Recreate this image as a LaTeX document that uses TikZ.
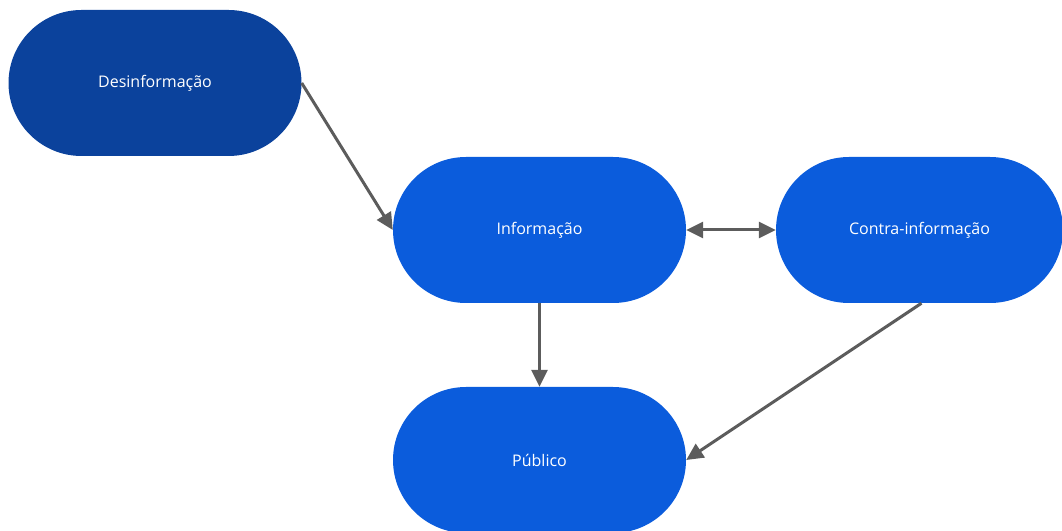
\documentclass[tikz,border=0pt]{standalone}
\usepackage{fontspec}
\setmainfont{Open Sans}
\usetikzlibrary{arrows.meta}
\definecolor{darkblue}{HTML}{0B429C}
\definecolor{midblue}{HTML}{0B5CDC}
\definecolor{arrowgray}{HTML}{5C5C5C}
\tikzset{
  pill/.style={draw=none, fill=midblue, rounded corners=73pt, minimum width=293pt, minimum height=146pt, inner sep=0pt, text=white, font=\fontsize{16}{18}\selectfont},
  conn/.style={draw=arrowgray, line width=3pt, -{Triangle[length=17pt,width=16pt]}},
  conn2/.style={draw=arrowgray, line width=3pt, {Triangle[length=17pt,width=16pt]}-{Triangle[length=17pt,width=16pt]}}
}
\begin{document}
\begin{tikzpicture}[x=1pt,y=1pt]
\useasboundingbox (0,0) rectangle (1062,530);
\node[pill, fill=darkblue] (des) at (155,447) {\raisebox{-2pt}{Desinformação}};
\node[pill] (inf) at (539.5,300) {\raisebox{-2pt}{Informação}};
\node[pill, minimum width=287pt] (con) at (919.5,300) {\raisebox{-2pt}{Contra-informação}};
\node[pill] (pub) at (539.5,70) {\raisebox{-2pt}{Público}};
\draw[conn] (des.east) -- (inf.west);
\draw[conn2] (inf.east) -- (con.west);
\draw[conn] (inf.south) -- (pub.north);
\draw[conn] ([xshift=2pt]con.south) -- (pub.east);
\end{tikzpicture}
\end{document}
